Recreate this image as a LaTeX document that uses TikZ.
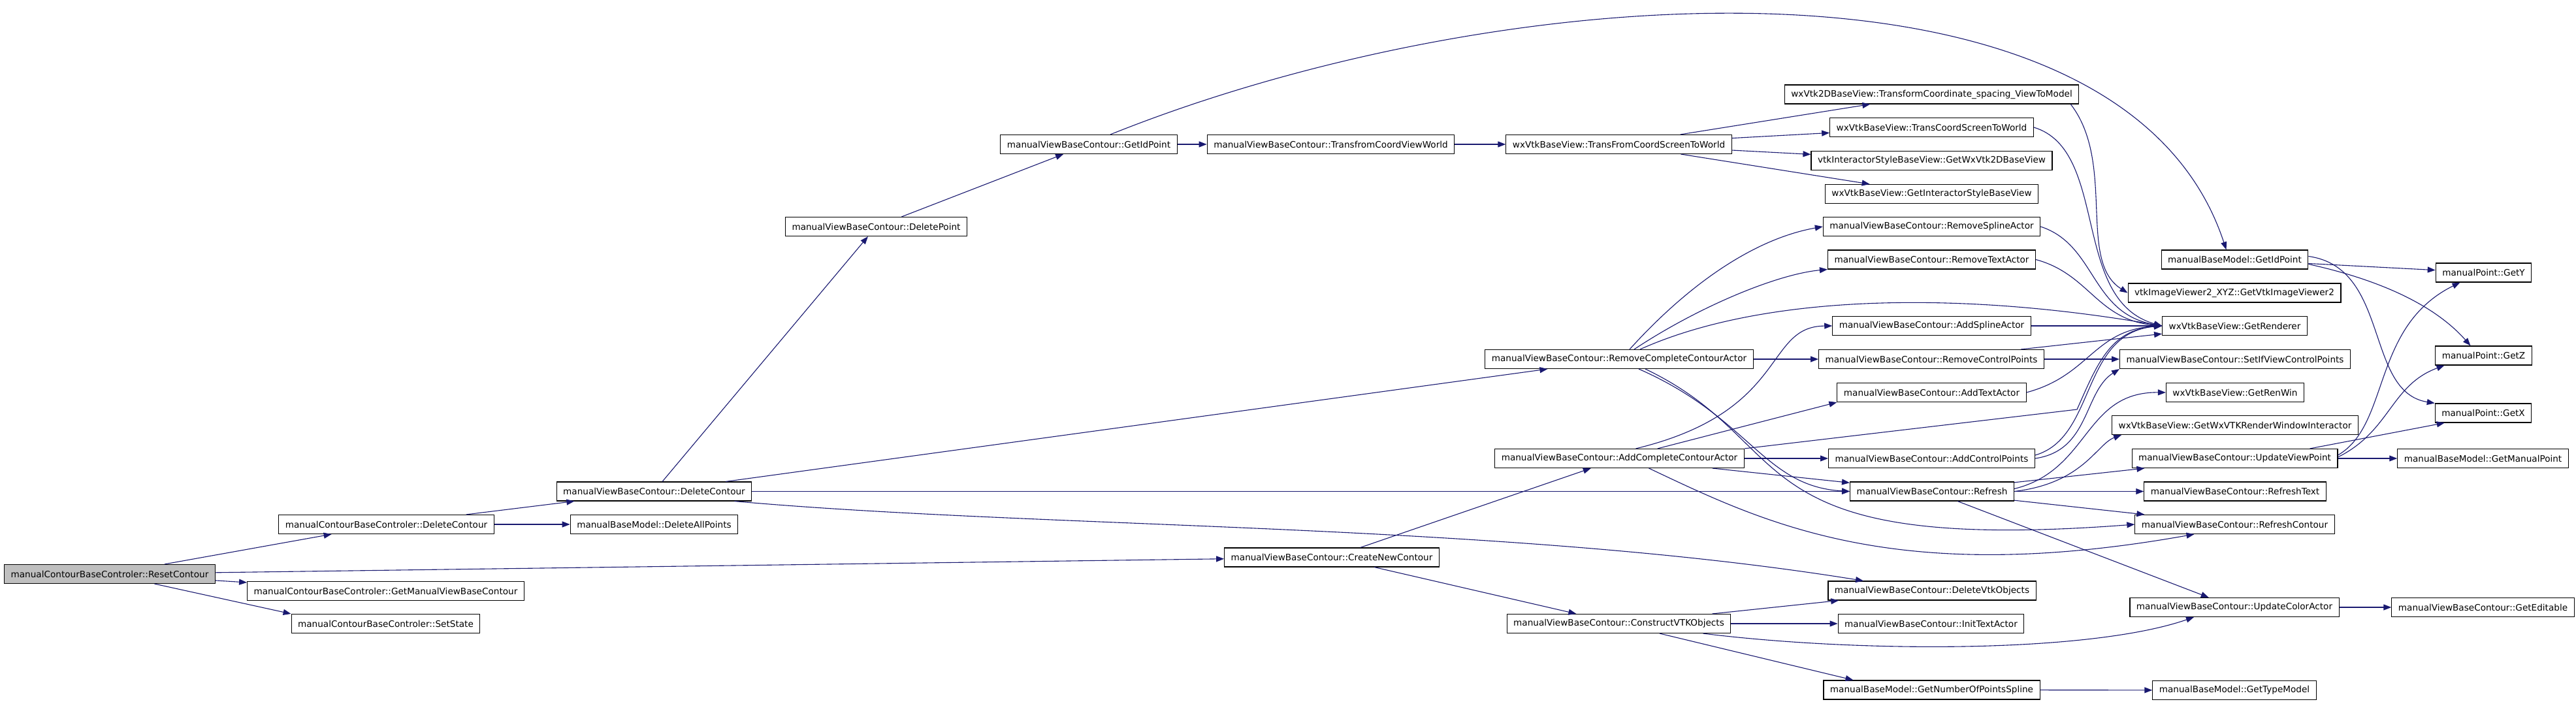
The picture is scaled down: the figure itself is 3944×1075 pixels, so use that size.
\documentclass[tikz,border=0pt]{standalone}
\usepackage{fontspec}
\setmainfont{DejaVu Sans}
\usetikzlibrary{arrows.meta}
\definecolor{callblue}{HTML}{191970}
\definecolor{rootgray}{HTML}{BFBFBF}
\begin{document}
\begin{tikzpicture}[x=1pt, y=1pt,
		fn/.style={draw=black, fill=white, line width=1.1pt, minimum height=29pt, inner xsep=10pt, inner ysep=0pt, font=\fontsize{13.6}{16}\selectfont},
		call/.style={-{Triangle[length=12pt,width=9pt]}, draw=callblue, line width=1.1pt}]
		\useasboundingbox (0,0) rectangle (3944,-1075);

		\draw (168,-879) node[fn, fill=rootgray] (reset) {manualContourBaseControler::ResetContour};
		\draw (591.5,-803) node[fn] (ctrlDel) {manualContourBaseControler::DeleteContour};
		\draw (590.5,-905) node[fn] (getView) {manualContourBaseControler::GetManualViewBaseContour};
		\draw (590.5,-955) node[fn] (setState) {manualContourBaseControler::SetState};
		\draw (1001.5,-752.5) node[fn] (delContour) {manualViewBaseContour::DeleteContour};
		\draw (1001.5,-803) node[fn] (delAll) {manualBaseModel::DeleteAllPoints};
		\draw (1341.5,-347) node[fn] (delPoint) {manualViewBaseContour::DeletePoint};
		\draw (1667,-221) node[fn] (getId) {manualViewBaseContour::GetIdPoint};
		\draw (2037.5,-221) node[fn] (coordView) {manualViewBaseContour::TransfromCoordViewWorld};
		\draw (2478.5,-221) node[fn] (screenWorld) {wxVtkBaseView::TransFromCoordScreenToWorld};
		\draw (2039,-853.5) node[fn] (newContour) {manualViewBaseContour::CreateNewContour};
		\draw (2479,-550) node[fn] (removeAll) {manualViewBaseContour::RemoveCompleteContourActor};
		\draw (2479.5,-702) node[fn] (addAll) {manualViewBaseContour::AddCompleteContourActor};
		\draw (2478.5,-955) node[fn] (buildVtk) {manualViewBaseContour::ConstructVTKObjects};

		\draw (2957.5,-144.5) node[fn] (viewModel) {wxVtk2DBaseView::TransformCoordinate\_spacing\_ViewToModel};
		\draw (2957.5,-195) node[fn] (transCoord) {wxVtkBaseView::TransCoordScreenToWorld};
		\draw (2957.5,-246) node[fn] (get2D) {vtkInteractorStyleBaseView::GetWxVtk2DBaseView};
		\draw (2957.5,-297) node[fn] (getStyle) {wxVtkBaseView::GetInteractorStyleBaseView};
		\draw (2957.5,-347) node[fn] (rmSpline) {manualViewBaseContour::RemoveSplineActor};
		\draw (2957.5,-397.5) node[fn] (rmText) {manualViewBaseContour::RemoveTextActor};
		\draw (2957.5,-499) node[fn] (addSpline) {manualViewBaseContour::AddSplineActor};
		\draw (2957,-550) node[fn] (rmCtrl) {manualViewBaseContour::RemoveControlPoints};
		\draw (2957.5,-601) node[fn] (addText) {manualViewBaseContour::AddTextActor};
		\draw (2957.5,-702) node[fn] (addCtrl) {manualViewBaseContour::AddControlPoints};
		\draw (2958,-752.5) node[fn] (refresh) {manualViewBaseContour::Refresh};
		\draw (2958,-904.5) node[fn] (delVtk) {manualViewBaseContour::DeleteVtkObjects};
		\draw (2956.5,-955) node[fn] (initText) {manualViewBaseContour::InitTextActor};
		\draw (2957.5,-1056.5) node[fn] (nPoints) {manualBaseModel::GetNumberOfPointsSpline};

		\draw (3421.5,-397.5) node[fn] (modelId) {manualBaseModel::GetIdPoint};
		\draw (3421,-448.5) node[fn] (imgViewer) {vtkImageViewer2\_XYZ::GetVtkImageViewer2};
		\draw (3421.5,-499) node[fn] (renderer) {wxVtkBaseView::GetRenderer};
		\draw (3422,-550) node[fn] (setCtrl) {manualViewBaseContour::SetIfViewControlPoints};
		\draw (3422,-601) node[fn] (renWin) {wxVtkBaseView::GetRenWin};
		\draw (3422,-651) node[fn] (rwi) {wxVtkBaseView::GetWxVTKRenderWindowInteractor};
		\draw (3421.5,-702) node[fn] (updPoint) {manualViewBaseContour::UpdateViewPoint};
		\draw (3422,-752.5) node[fn] (refText) {manualViewBaseContour::RefreshText};
		\draw (3421.5,-803) node[fn] (refContour) {manualViewBaseContour::RefreshContour};
		\draw (3421,-930) node[fn] (updColor) {manualViewBaseContour::UpdateColorActor};
		\draw (3421,-1057) node[fn] (typeModel) {manualBaseModel::GetTypeModel};

		\draw (3802.5,-417.5) node[fn] (getY) {manualPoint::GetY};
		\draw (3802.5,-544.5) node[fn] (getZ) {manualPoint::GetZ};
		\draw (3802,-632.5) node[fn] (getX) {manualPoint::GetX};
		\draw (3801.5,-702) node[fn] (manPoint) {manualBaseModel::GetManualPoint};
		\draw (3801.5,-930) node[fn] (editable) {manualViewBaseContour::GetEditable};

		\draw [call] (reset) -- (ctrlDel);
		\draw [call] (reset) -- (newContour);
		\draw [call] (reset) -- (getView);
		\draw [call] (reset) -- (setState.north west);
		\draw [call] (ctrlDel) -- (delContour);
		\draw [call] (ctrlDel) -- (delAll);

		\draw [call] (delContour) -- (delPoint);
		\draw [call] (delContour) -- (removeAll);
		\draw [call] (delContour) -- (refresh);
		\draw [call] ([xshift=123pt]delContour.south) .. controls (1600,-810) and (2300,-800) .. ([xshift=-105pt]delVtk.north);
		\draw [call] (delPoint) -- (getId);
		\draw [call] (getId) -- (coordView);
		\draw [call] (coordView) -- (screenWorld);
		\draw [call] ([xshift=33pt]getId.north) .. controls (2300,35) and (3250,100) .. ([xshift=-13pt]modelId.north);

		\draw [call] (screenWorld) -- (viewModel);
		\draw [call] (screenWorld) -- (transCoord);
		\draw [call] (screenWorld) -- (get2D);
		\draw [call] (screenWorld) -- (getStyle);
		\draw [call] ([xshift=-13pt]viewModel.south east) .. controls (3240,-250) and (3180,-400) .. (imgViewer.west);
		\draw [call] (transCoord.east) .. controls (3230,-230) and (3170,-460) .. (renderer.west);
		\draw [call] (rmSpline.east) .. controls (3210,-375) and (3200,-480) .. (renderer.west);
		\draw [call] (rmText.east) .. controls (3200,-420) and (3210,-490) .. (renderer.west);

		\draw [call] ([xshift=16pt]removeAll.north) .. controls (2590,-430) and (2690,-365) .. (rmSpline.west);
		\draw [call] ([xshift=23pt]removeAll.north) .. controls (2600,-470) and (2720,-420) .. (rmText.south west);
		\draw [call] ([xshift=32pt]removeAll.north) .. controls (2700,-450) and (3000,-445) .. (renderer.west);
		\draw [call] (removeAll) -- (rmCtrl);
		\draw [call] ([xshift=30pt]removeAll.south) .. controls (2680,-640) and (2700,-745) .. (refresh.west);
		\draw [call] ([xshift=40pt]removeAll.south) .. controls (2760,-680) and (2650,-850) .. (refContour.west);

		\draw [call] ([xshift=25pt]addAll.north) .. controls (2740,-630) and (2700,-500) .. (addSpline.west);
		\draw [call] (addAll) -- (addText.south west);
		\draw [call] (addAll.north east) -- (3180,-627) .. controls (3210,-560) and (3230,-505) .. (renderer.west);
		\draw [call] (addAll) -- (addCtrl);
		\draw [call] (addAll) -- (refresh);
		\draw [call] ([xshift=45pt]addAll.south) .. controls (2700,-800) and (2900,-900) .. ([xshift=-62pt]refContour.south);

		\draw [call] (newContour) -- (addAll);
		\draw [call] (newContour) -- (buildVtk);
		\draw [call] (buildVtk) -- (delVtk);
		\draw [call] (buildVtk) -- (initText);
		\draw [call] ([xshift=129pt]buildVtk.south) .. controls (2850,-1000) and (3200,-1000) .. ([xshift=-62pt]updColor.south);
		\draw [call] (buildVtk) -- ([xshift=-120pt]nPoints.north);
		\draw [call] (nPoints) -- (typeModel);

		\draw [call] (addSpline) -- (renderer);
		\draw [call] (rmCtrl) -- (setCtrl);
		\draw [call] (rmCtrl) -- (renderer);
		\draw [call] (addText.east) .. controls (3200,-575) and (3205,-505) .. (renderer.west);
		\draw [call] ([yshift=5pt]addCtrl.east) .. controls (3210,-670) and (3185,-510) .. (renderer.west);
		\draw [call] (addCtrl.east) .. controls (3200,-690) and (3190,-600) .. (setCtrl.south west);

		\draw [call] ([yshift=4pt]refresh.east) .. controls (3200,-720) and (3190,-600) .. (renWin.west);
		\draw [call] (refresh.east) .. controls (3190,-740) and (3210,-680) .. ([xshift=15pt]rwi.south west);
		\draw [call] (refresh) -- (updPoint);
		\draw [call] (refresh) -- (refText);
		\draw [call] (refresh) -- (refContour);
		\draw [call] (refresh) -- (updColor);

		\draw [call] ([yshift=-6pt]modelId.east) -- (getY);
		\draw [call] ([yshift=-7pt]modelId.east) .. controls (3650,-430) and (3730,-470) .. ([xshift=-20pt]getZ.north);
		\draw [call] ([yshift=5pt]modelId.east) .. controls (3660,-410) and (3620,-600) .. (getX.north west);
		\draw [call] ([yshift=5pt]updPoint.east) .. controls (3660,-650) and (3630,-500) .. ([xshift=-36pt]getY.south);
		\draw [call] ([yshift=2pt]updPoint.east) .. controls (3660,-660) and (3660,-590) .. ([xshift=-60pt]getZ.south);
		\draw [call] ([xshift=115pt]updPoint.north) -- ([xshift=15pt]getX.south west);
		\draw [call] (updPoint) -- (manPoint);
		\draw [call] (updColor) -- (editable);
	\end{tikzpicture}
\end{document}
